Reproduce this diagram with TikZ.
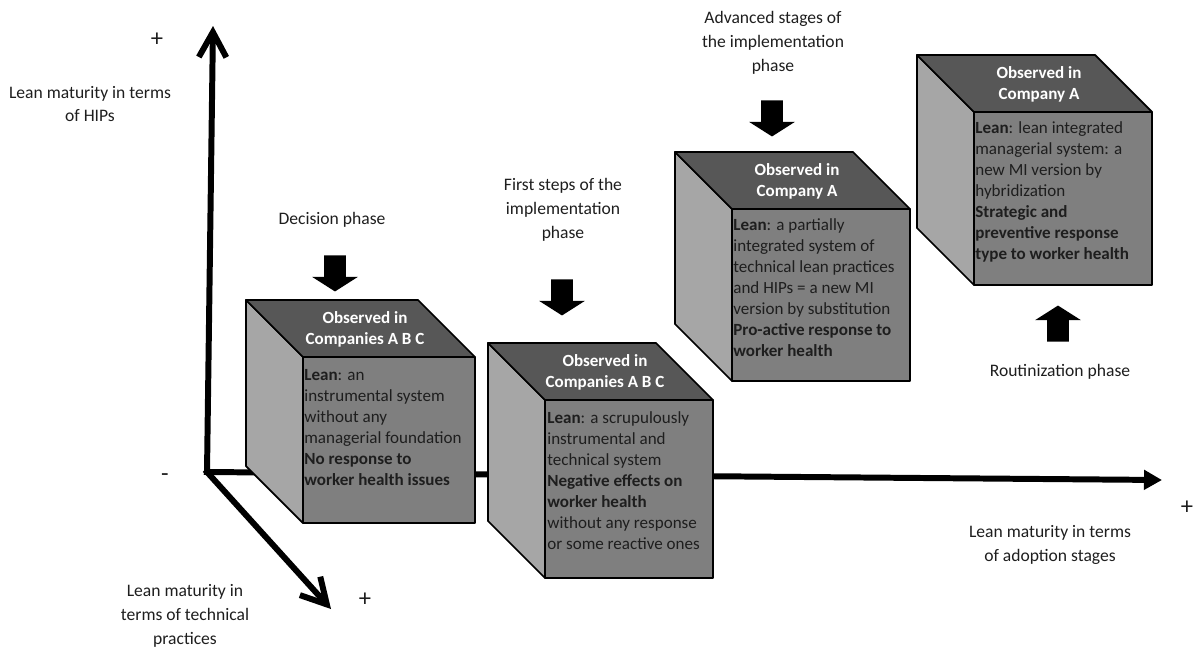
\documentclass[tikz,border=0pt]{standalone}
\usepackage{fontspec}
\setmainfont{Carlito}
\usetikzlibrary{arrows.meta,shapes.arrows,positioning}
\definecolor{topgray}{HTML}{575757}
\definecolor{frontgray}{HTML}{7F7F7F}
\definecolor{sidegray}{HTML}{A6A6A6}
\definecolor{inkgray}{HTML}{1E1E1E}
% cube: name, front corner x, y, width, height
\newcommand{\leancube}[5]{%
  \filldraw[face, fill=sidegray] (#2,#3) -- ++(-57,-57) -- ++(0,#5) -- ++(57,57) -- cycle;
  \filldraw[face, fill=topgray] (#2,#3) -- ++(-57,-57) -- ++(#4,0) -- ++(57,57) -- cycle;
  \filldraw[face, fill=frontgray] (#2,#3) rectangle ++(#4,#5);
  \coordinate (#1) at (#2,#3);
}

\begin{document}
\begin{tikzpicture}[x=0.02cm, y=-0.02cm,
    axis/.style={line width=3.4pt, line cap=rect},
    face/.style={draw=black, line width=1pt, line join=round},
    fronttext/.style={anchor=north west, inner sep=0pt, align=left, text=inkgray, font=\fontsize{9.7}{11.95}\selectfont},
    toptext/.style={inner sep=0pt, align=center, text=white, font=\fontsize{9.7}{11.95}\selectfont\bfseries},
    axislabel/.style={inner sep=0pt, align=center, text=inkgray, font=\fontsize{10}{13.6}\selectfont},
    sign/.style={inner sep=0pt, text=inkgray, font=\fontsize{14}{16}\selectfont},
    phasearrow/.style={single arrow, fill=black, draw=none, inner sep=0.21cm, text width=0pt, text height=0pt, text depth=0pt, minimum height=0.72cm, single arrow head extend=0.24cm, single arrow tip angle=115}]
    \useasboundingbox (0,0) rectangle (1193,650);

    % Axes
    \coordinate (origin) at (207,472);
    \coordinate (hiptop) at (213,26);
    \coordinate (stageend) at (1162,480);
    \coordinate (techend) at (331,609);
    \draw[axis, -{Straight Barb[length=5mm, width=5.5mm]}] (origin) -- (hiptop);
    \draw[axis, -{Triangle[length=3.6mm, width=3.8mm]}] (origin) -- (stageend);
    \draw[axis, -{Straight Barb[length=5mm, width=5.5mm]}] (origin) -- (techend);

    \node[sign] (hipplus) at (157,40) {+};
    \node[axislabel] (hiplabel) at (90,104) {Lean maturity in terms\\of HIPs};
    \node[sign] (originminus) at (165,478) {-};
    \node[sign] (techplus) at (365,600) {+};
    \node[axislabel] (techlabel) at (185,616) {Lean maturity in\\terms of technical\\practices};
    \node[sign] (stageplus) at (1187,508) {+};
    \node[axislabel] (stagelabel) at (1050,545) {Lean maturity in terms\\of adoption stages};

    % Cubes
    \leancube{cube-1}{303}{357}{172}{166}
    \leancube{cube-2}{545}{400}{168}{178}
    \leancube{cube-3}{732}{209}{178}{172}
    \leancube{cube-4}{974}{112}{178}{173}

    \node[toptext] (top-1) at ([shift={(62,-28)}]cube-1) {Observed in\\Companies A B C};
    \node[toptext] (top-2) at ([shift={(60,-28)}]cube-2) {Observed in\\Companies A B C};
    \node[toptext] (top-3) at ([shift={(65,-28)}]cube-3) {Observed in\\Company A};
    \node[toptext] (top-4) at ([shift={(65,-28)}]cube-4) {Observed in\\Company A};

    \node[fronttext] (text-1) at ([shift={(1,12)}]cube-1) {\textbf{Lean}: an\\instrumental system\\without any\\managerial foundation\\\textbf{No response to}\\\textbf{worker health issues}};
    \node[fronttext] (text-2) at ([shift={(2,11)}]cube-2) {\textbf{Lean}: a scrupulously\\instrumental and\\technical system\\\textbf{Negative effects on}\\\textbf{worker health}\\without any response\\or some reactive ones};
    \node[fronttext] (text-3) at ([shift={(1,9)}]cube-3) {\textbf{Lean}: a partially\\integrated system of\\technical lean practices\\and HIPs = a new MI\\version by substitution\\\textbf{Pro-active response to}\\\textbf{worker health}};
    \node[fronttext] (text-4) at ([shift={(1,9)}]cube-4) {\textbf{Lean}: lean integrated\\managerial system: a\\new MI version by\\hybridization\\\textbf{Strategic and}\\\textbf{preventive response}\\\textbf{type to worker health}};

    % Phases
    \node[axislabel] (decision) at (332,220) {Decision phase};
    \node[axislabel] (firststeps) at (563,210) {First steps of the\\implementation\\phase};
    \node[axislabel] (advanced) at (773,43) {Advanced stages of\\the implementation\\phase};
    \node[axislabel] (routine) at (1060,372) {Routinization phase};

    \node[phasearrow, shape border rotate=270] (decision-arrow) at (335,270) {};
    \node[phasearrow, shape border rotate=270] (firststeps-arrow) at (562,294) {};
    \node[phasearrow, shape border rotate=270] (advanced-arrow) at (772,115) {};
    \node[phasearrow, shape border rotate=90] (routine-arrow) at (1058,327) {};

\end{tikzpicture}
\end{document}
